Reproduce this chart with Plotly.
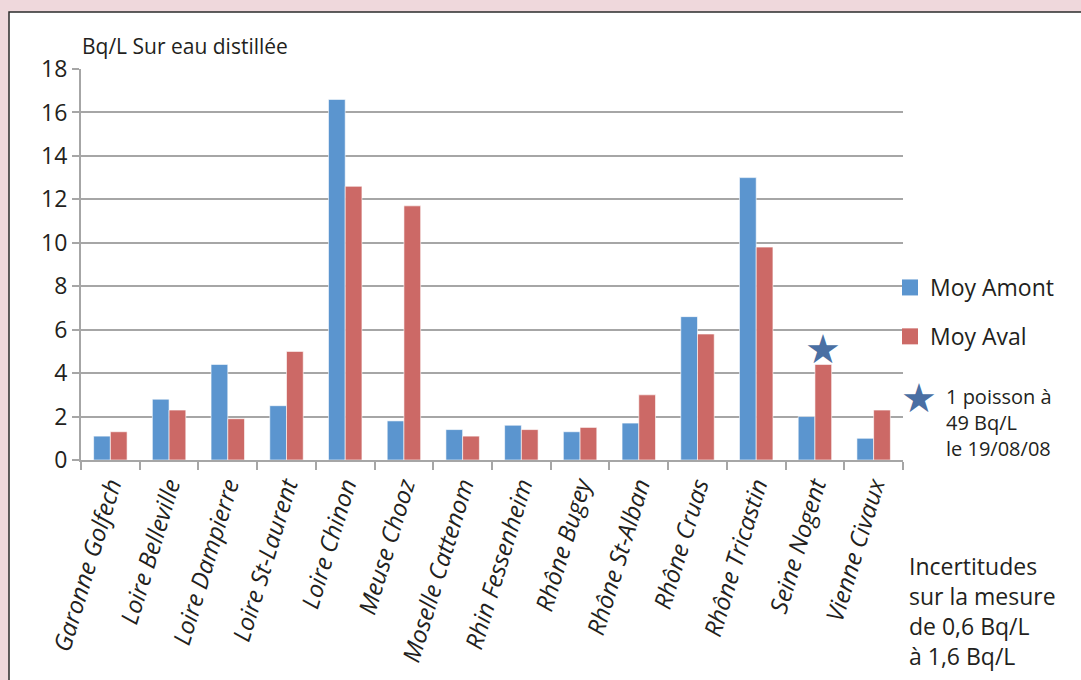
import plotly.graph_objects as go

sites = [
    "Garonne Golfech", "Loire Belleville", "Loire Dampierre", "Loire St-Laurent",
    "Loire Chinon", "Meuse Chooz", "Moselle Cattenom", "Rhin Fessenheim",
    "Rhône Bugey", "Rhône St-Alban", "Rhône Cruas", "Rhône Tricastin",
    "Seine Nogent", "Vienne Civaux",
]
moy_amont = [1.1, 2.8, 4.4, 2.5, 16.6, 1.8, 1.4, 1.6, 1.3, 1.7, 6.6, 13.0, 2.0, 1.0]
moy_aval = [1.3, 2.3, 1.9, 5.0, 12.6, 11.7, 1.1, 1.4, 1.5, 3.0, 5.8, 9.8, 4.4, 2.3]
# one fish at 49 Bq/L, flagged by a star above the downstream bar
star_site = "Seine Nogent"
star_y = 5.1

W, H = 1081, 680
FONT = "Open Sans, Noto Sans, sans-serif"
BLUE, RED, STAR = "#5b95cf", "#cc6966", "#4a6fa3"
GRID = "#a6a6a6"
PINK = "#efd8dc"
PLOT_X0, PLOT_X1 = 81, 903
BARGAP = 0.43


def px_x(x):
    return x / W


def px_y(y):
    return 1 - y / H


fig = go.Figure()
fig.add_bar(x=sites, y=moy_amont, name="Moy Amont", showlegend=False,
            marker=dict(color=BLUE, line=dict(color="rgba(255,255,255,0.6)", width=1)))
fig.add_bar(x=sites, y=moy_aval, name="Moy Aval", showlegend=False,
            marker=dict(color=RED, line=dict(color="rgba(255,255,255,0.6)", width=1)))
# legend keys with bigger square swatches
for name, color, grp in (("Moy Amont", BLUE, "a"), ("Moy Aval", RED, "b")):
    fig.add_scatter(x=[None], y=[None], mode="markers", name=name, legendgroup=grp,
                    marker=dict(symbol="square", size=16, color=color))

fig.update_layout(
    width=W, height=H,
    margin=dict(l=0, r=0, t=0, b=0),
    paper_bgcolor=PINK,
    plot_bgcolor="rgba(0,0,0,0)",
    font=dict(family=FONT, color="#231f20"),
    bargap=BARGAP, bargroupgap=0,
    showlegend=True,
    legend=dict(x=px_x(890), y=px_y(266), xanchor="left", yanchor="top",
                font=dict(size=23), tracegroupgap=16, traceorder="grouped",
                itemsizing="trace", bgcolor="rgba(0,0,0,0)"),
    xaxis=dict(domain=[px_x(PLOT_X0), px_x(PLOT_X1)], automargin=False,
               showline=True, linecolor=GRID, linewidth=2,
               ticks="outside", tickson="boundaries", ticklen=8, tickcolor=GRID, tickwidth=2,
               tickangle=-73, tickfont=dict(size=24, style="italic")),
    yaxis=dict(domain=[px_y(460), px_y(69)], range=[0, 18], dtick=2, automargin=False,
               showline=True, linecolor=GRID, linewidth=2,
               showgrid=True, gridcolor=GRID, gridwidth=2, zeroline=False,
               ticks="outside", ticklen=7, tickcolor=GRID, tickwidth=2,
               tickfont=dict(size=23)),
    shapes=[dict(type="rect", xref="paper", yref="paper", layer="below",
                 x0=px_x(9), x1=1.05, y0=-0.05, y1=px_y(12),
                 fillcolor="white", line=dict(color="#2b2b2b", width=1.5))],
)

# star sits over the second (Moy Aval) bar of its group
bar_w = (PLOT_X1 - PLOT_X0) / len(sites) * (1 - BARGAP) / 2
fig.add_annotation(text="★", x=star_site, y=star_y, xshift=bar_w / 2, yanchor="middle",
                   showarrow=False, font=dict(size=40, color=STAR, family="DejaVu Sans"))

fig.add_annotation(text="Bq/L Sur eau distillée", xref="paper", yref="paper",
                   x=px_x(80), y=px_y(46), xanchor="left", yanchor="middle",
                   showarrow=False, font=dict(size=21))
fig.add_annotation(text="★", xref="paper", yref="paper",
                   x=px_x(919), y=px_y(398), xanchor="center", yanchor="middle",
                   showarrow=False, font=dict(size=40, color=STAR, family="DejaVu Sans"))
fig.add_annotation(text="1 poisson à<br>49 Bq/L<br>le 19/08/08", xref="paper", yref="paper",
                   x=px_x(944), y=px_y(381), xanchor="left", yanchor="top", align="left",
                   showarrow=False, font=dict(size=20))
fig.add_annotation(text="Incertitudes<br>sur la mesure<br>de 0,6 Bq/L<br>à 1,6 Bq/L",
                   xref="paper", yref="paper",
                   x=px_x(907), y=px_y(548), xanchor="left", yanchor="top", align="left",
                   showarrow=False, font=dict(size=23))

fig.write_html(
    "out.html",
    config={"displayModeBar": False},
    post_script=f"document.body.style.margin='0'; document.body.style.background='{PINK}';",
)
